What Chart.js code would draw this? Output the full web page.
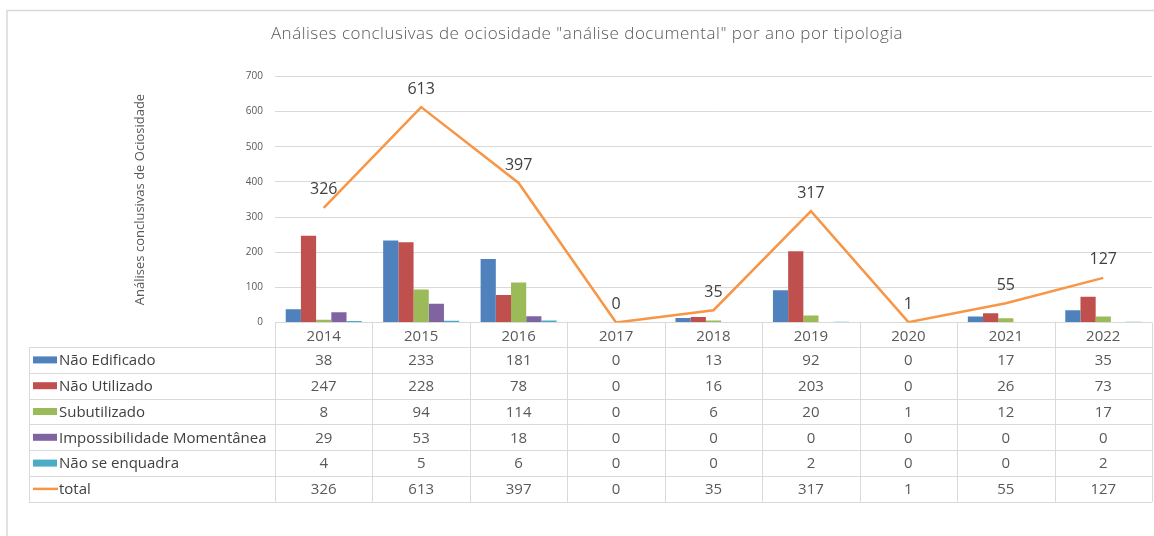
<!DOCTYPE html>
<html>
<head>
<meta charset="utf-8">
<script src="https://cdn.jsdelivr.net/npm/chart.js@4.4.1/dist/chart.umd.min.js"></script>
<style>
  html, body { margin: 0; padding: 0; background: #ffffff; }
  #wrap { position: relative; width: 1154px; height: 536px; }
</style>
</head>
<body>
<div id="wrap"><canvas id="c" width="1154" height="536"></canvas></div>
<script>
const categories = ['2014', '2015', '2016', '2017', '2018', '2019', '2020', '2021', '2022'];
const naoEdificado = [38, 233, 181, 0, 13, 92, 0, 17, 35];
const naoUtilizado = [247, 228, 78, 0, 16, 203, 0, 26, 73];
const subutilizado = [8, 94, 114, 0, 6, 20, 1, 12, 17];
const impossibilidade = [29, 53, 18, 0, 0, 0, 0, 0, 0];
const naoSeEnquadra = [4, 5, 6, 0, 0, 2, 0, 0, 2];
const total = [326, 613, 397, 0, 35, 317, 1, 55, 127];
const yTicks = [0, 100, 200, 300, 400, 500, 600, 700];

const titleText = 'Análises conclusivas de ociosidade "análise documental" por ano por tipologia';
const yTitleText = 'Análises conclusivas de Ociosidade';

const seriesNames = ['Não Edificado', 'Não Utilizado', 'Subutilizado', 'Impossibilidade Momentânea', 'Não se enquadra', 'total'];
const colors = ['#4f81bd', '#c0504d', '#9bbb59', '#8064a2', '#4bacc6', '#f79646'];
const seriesData = [naoEdificado, naoUtilizado, subutilizado, impossibilidade, naoSeEnquadra, total];

const datasets = [];
for (let i = 0; i < 5; i++) {
  datasets.push({
    type: 'bar',
    label: seriesNames[i],
    data: seriesData[i],
    backgroundColor: colors[i],
    borderWidth: 0,
    barPercentage: 1.0,
    categoryPercentage: 0.78,
    order: 1
  });
}
datasets.push({
  type: 'line',
  label: seriesNames[5],
  data: total,
  borderColor: colors[5],
  borderWidth: 2.5,
  pointRadius: 0,
  tension: 0,
  fill: false,
  order: 0
});

const extrasPlugin = {
  id: 'extras',
  afterDraw(chart) {
    const ctx = chart.ctx;
    const area = chart.chartArea;
    const xs = chart.scales.x;
    ctx.save();

    // outer frame
    ctx.strokeStyle = '#d9d9d9';
    ctx.lineWidth = 1.5;
    ctx.beginPath();
    ctx.moveTo(7, 536);
    ctx.lineTo(7, 10.5);
    ctx.lineTo(1154, 10.5);
    ctx.stroke();

    // title
    ctx.fillStyle = '#595959';
    ctx.font = '300 17px "Open Sans"';
    ctx.textAlign = 'center';
    ctx.textBaseline = 'middle';
    if ('letterSpacing' in ctx) ctx.letterSpacing = '0.5px';
    ctx.fillText(titleText, 587, 34);
    if ('letterSpacing' in ctx) ctx.letterSpacing = '0px';

    // data labels for total line
    const lineMeta = chart.getDatasetMeta(5);
    ctx.fillStyle = '#404040';
    ctx.font = '16px "Open Sans"';
    lineMeta.data.forEach((pt, i) => {
      ctx.fillText(String(total[i]), pt.x, pt.y - 18);
    });

    // data table
    const n = categories.length;
    const colW = (area.right - area.left) / n;
    const tableLeft = 29;
    const headerTop = area.bottom;
    const rowTop = 347;
    const rowH = 25.8;
    const nRows = 6;
    const tableBottom = rowTop + rowH * nRows;

    ctx.strokeStyle = '#d9d9d9';
    ctx.lineWidth = 1;
    ctx.beginPath();
    for (let r = 0; r <= nRows; r++) {
      const y = Math.round(rowTop + rowH * r) + 0.5;
      ctx.moveTo(tableLeft, y);
      ctx.lineTo(area.right, y);
    }
    for (let c = 0; c <= n; c++) {
      const x = Math.round(area.left + colW * c) + 0.5;
      ctx.moveTo(x, headerTop);
      ctx.lineTo(x, tableBottom);
    }
    ctx.moveTo(tableLeft + 0.5, rowTop);
    ctx.lineTo(tableLeft + 0.5, tableBottom);
    ctx.stroke();

    // header years
    ctx.font = '15px "Open Sans"';
    ctx.fillStyle = '#595959';
    ctx.textAlign = 'center';
    categories.forEach((cat, i) => {
      const cx = xs.getPixelForValue(i);
      ctx.fillText(cat, cx, (headerTop + rowTop) / 2 + 1.5);
    });

    for (let r = 0; r < nRows; r++) {
      const cy = rowTop + rowH * r + rowH / 2 + 1;
      if (r < 5) {
        ctx.fillStyle = colors[r];
        ctx.fillRect(33, cy - 4.5, 24, 7);
      } else {
        ctx.strokeStyle = colors[r];
        ctx.lineWidth = 2.5;
        ctx.beginPath();
        ctx.moveTo(33, cy - 1);
        ctx.lineTo(58, cy - 1);
        ctx.stroke();
      }
      ctx.fillStyle = '#404040';
      ctx.textAlign = 'left';
      ctx.fillText(seriesNames[r], 59, cy);
      ctx.fillStyle = '#595959';
      ctx.textAlign = 'center';
      seriesData[r].forEach((v, i) => {
        ctx.fillText(String(v), xs.getPixelForValue(i), cy);
      });
    }
    ctx.restore();
  }
};

new Chart(document.getElementById('c'), {
  type: 'bar',
  data: { labels: categories, datasets: datasets },
  plugins: [extrasPlugin],
  options: {
    responsive: false,
    animation: false,
    layout: { padding: { left: 130, right: 2, top: 76.5, bottom: 213.5 } },
    plugins: {
      legend: { display: false },
      title: { display: false },
      tooltip: { enabled: false }
    },
    scales: {
      x: {
        display: false,
        offset: true
      },
      y: {
        min: 0,
        max: 700,
        afterFit(scale) { scale.width = 145; },
        afterBuildTicks(scale) { scale.ticks = yTicks.map(v => ({ value: v })); },
        border: { display: false },
        grid: { color: '#d9d9d9', lineWidth: 1, drawTicks: false },
        ticks: {
          padding: 12,
          color: '#595959',
          font: { family: '"Open Sans"', size: 10 }
        },
        title: {
          display: true,
          text: yTitleText,
          color: '#595959',
          font: { family: '"Open Sans"', size: 13 },
          padding: { top: 2, bottom: 0 }
        }
      }
    }
  }
});
</script>
</body>
</html>
